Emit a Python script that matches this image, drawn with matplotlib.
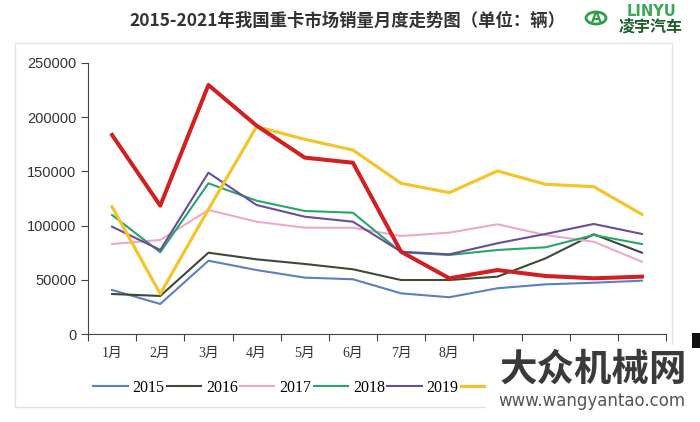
import matplotlib.pyplot as plt
from matplotlib.patches import Rectangle, Circle
import numpy as np

months = ['1月', '2月', '3月', '4月', '5月', '6月', '7月', '8月', '9月', '10月', '11月', '12月']
years = ['2015', '2016', '2017', '2018', '2019', '2020', '2021']

# monthly heavy truck sales
sales_2015 = [40600, 27700, 67600, 59000, 52000, 50500, 37500, 33900, 42200, 45800, 47300, 49200]
sales_2016 = [36900, 35100, 75000, 68900, 64600, 59700, 49800, 49800, 52900, 69800, 92000, 75000]
sales_2017 = [83000, 86700, 114400, 103600, 98100, 98000, 90400, 93500, 101200, 91300, 85100, 66700]
sales_2018 = [109800, 75400, 139000, 123000, 113500, 111900, 75400, 72900, 77500, 80000, 91300, 83000]
sales_2019 = [99000, 77500, 148800, 119000, 108200, 103600, 75900, 73500, 83700, 92300, 101500, 92300]
sales_2020 = [117400, 37000, 115000, 191300, 179600, 169700, 139000, 130400, 150400, 138100, 135900, 110400]
sales_2021 = [183600, 118400, 229700, 192200, 162700, 158000, 75900, 51400, 59000, 53500, 51400, 52900]

series = [sales_2015, sales_2016, sales_2017, sales_2018, sales_2019, sales_2020, sales_2021]
colors = ['#5b7fbf', '#3d4a36', '#f0a8c8', '#27a56a', '#6a4c9c', '#f2c52a', '#d11f22']
widths = [1.5, 1.5, 1.5, 1.5, 1.5, 2.3, 2.9]

fig = plt.figure(figsize=(7, 4.22), dpi=100)
W, H = 700, 422

# light frame round the chart
fig.patches.append(Rectangle((15 / W, 1 - 407 / H), (672 - 15) / W, (407 - 43) / H,
                             transform=fig.transFigure, fill=False, ec='#e2e2e2', lw=1))

ax = fig.add_axes([88 / W, 1 - 334 / H, (666 - 88) / W, (334 - 63) / H])
x = np.arange(len(months))
for yr, vals, c, w in zip(years, series, colors, widths):
    ax.plot(x, vals, color=c, lw=w, label=yr)

ax.set_xlim(-0.5, 11.5)
ax.set_ylim(0, 250000)
ax.set_yticks(np.arange(0, 250001, 50000))
ax.set_xticks(np.arange(-0.5, 12, 1))
ax.set_xticklabels([])
ax.set_xticks(x, minor=True)
ax.set_xticklabels(months, minor=True, family=['Liberation Serif', 'Noto Sans CJK SC'],
                   fontsize=10, color='#333333')
ax.tick_params(axis='x', which='minor', length=0, pad=9)
ax.tick_params(axis='x', which='major', length=5, color='#444444')
ax.tick_params(axis='y', length=5, color='#444444', labelsize=10.5, labelcolor='#333333')
for lab in ax.get_yticklabels():
    lab.set_family('Liberation Sans')
for s in ['top', 'right']:
    ax.spines[s].set_visible(False)
for s in ['left', 'bottom']:
    ax.spines[s].set_color('#444444')

fig.legend(loc='center left', bbox_to_anchor=(90 / W, 1 - 388 / H), ncol=7, frameon=False,
           prop={'family': 'Liberation Serif', 'size': 11.5}, handlelength=2.15,
           handletextpad=0.3, columnspacing=0.15, borderaxespad=0, borderpad=0.2)

fig.text(347 / W, 1 - 21 / H, '2015-2021年我国重卡市场销量月度走势图（单位：辆）',
         ha='center', va='center', fontsize=12.5, fontweight='bold',
         family=['Noto Sans CJK SC', 'DejaVu Sans'], color='#333333')

# logo
fig.patches.append(Circle((596 / W, 1 - 18 / H), 10 / W, transform=fig.transFigure,
                          fill=False, ec='#2f9e48', lw=2))
fig.text(596 / W, 1 - 18 / H, 'A', ha='center', va='center', fontsize=10,
         fontweight='bold', color='#2f9e48', family='DejaVu Sans')
fig.text(651 / W, 1 - 11 / H, 'LINYU', ha='center', va='center', fontsize=10.5,
         fontweight='bold', color='#3aa955', family='DejaVu Sans')
fig.text(651 / W, 1 - 27 / H, '凌宇汽车', ha='center', va='center', fontsize=11.5,
         fontweight='bold', color='#1d5e2c', family='Noto Sans CJK SC')

# watermark block in the lower right corner
fig.patches.append(Rectangle((486 / W, 0), (W - 486) / W, (H - 345) / H,
                             transform=fig.transFigure, fc='white', ec='none', zorder=20))
fig.patches.append(Rectangle((692 / W, 1 - 348 / H), 8 / W, 15 / H,
                             transform=fig.transFigure, fc='#111111', ec='none', zorder=21))
fig.text(593 / W, 1 - 369 / H, '大众机械网', ha='center', va='center', fontsize=27,
         fontweight='bold', color='#3a3a3a', family='Noto Sans CJK SC', zorder=22)
fig.text(592 / W, 1 - 401 / H, 'www.wangyantao.com', ha='center', va='center',
         fontsize=12, color='#555555', family='DejaVu Sans', zorder=22)

fig.savefig('out.png', dpi=100, facecolor='white')
